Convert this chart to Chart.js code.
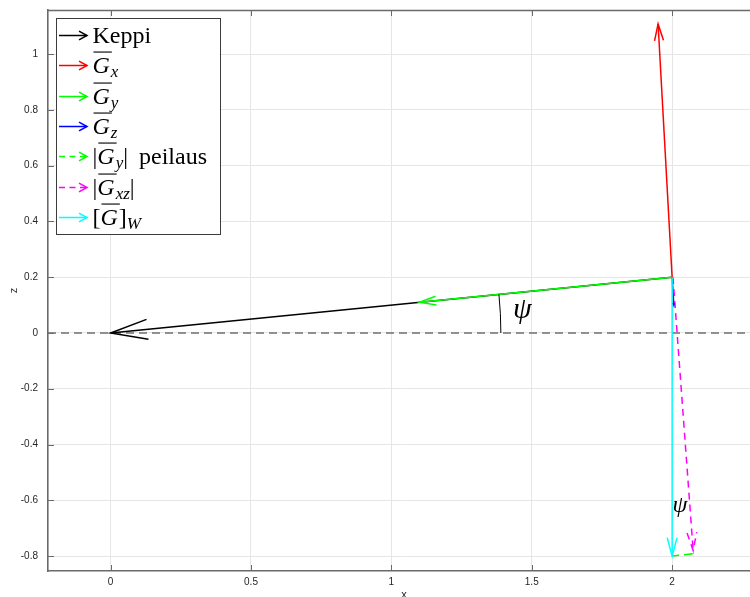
<!DOCTYPE html>
<html>
<head>
<meta charset="utf-8">
<script src="https://cdn.jsdelivr.net/npm/chart.js@4.4.1/dist/chart.umd.min.js"></script>
<style>
  html, body { margin: 0; padding: 0; background: #fff; overflow: hidden; }
  #wrap { width: 750px; height: 597px; overflow: hidden; position: relative; }
  canvas { display: block; }
</style>
</head>
<body>
<div id="wrap"><canvas id="c" width="760" height="597"></canvas></div>
<script>
// ---- axis limits and ticks ----
const xMin = -0.223, xMax = 2.313;
const zMin = -0.8535, zMax = 1.158;
const xTicks = [0, 0.5, 1, 1.5, 2];
const zTicks = [-0.8, -0.6, -0.4, -0.2, 0, 0.2, 0.4, 0.6, 0.8, 1];

// ---- vectors (start, end) ----
const keppiX = [2, 0],        keppiZ = [0.2, 0];
const gxX = [2, 1.95],        gxZ = [0.2, 1.108];
const gyX = [2, 1.1],         gyZ = [0.2, 0.11];
const gzX = [2, 2.006],       gzZ = [0.2, 0.1];
const gyPeilausX = [2, 2.07], gyPeilausZ = [-0.8, -0.792];
const gxzX = [2.003, 2.075],  gxzZ = [0.2, -0.78];
const gwX = [2, 2],           gwZ = [0.2, -0.8];
const zeroX = [xMin, xMax],   zeroZ = [0, 0];

// ---- annotations ----
const psiArcRadius = 1.39;
const psiLabelX = [1.466, 2.028];
const psiLabelZ = [0.082, -0.62];
const psiLabelSize = [30, 24];

const legendLabels = ['Keppi', 'G_x', 'G_y', 'G_z', '|G_y| peilaus', '|G_xz|', '[G]_W'];
const seriesColors = ['#000000', '#ff0000', '#00ff00', '#0000ff', '#00ff00', '#ff00ff', '#00ffff'];
const seriesDashed = [false, false, false, false, true, true, false];

function pts(xs, zs) { return xs.map((x, i) => ({ x: x, y: zs[i] })); }

const series = [
  [keppiX, keppiZ], [gxX, gxZ], [gyX, gyZ], [gzX, gzZ],
  [gyPeilausX, gyPeilausZ], [gxzX, gxzZ], [gwX, gwZ]
];

const datasets = [];
datasets.push({
  label: 'zero', data: pts(zeroX, zeroZ), showLine: true, pointRadius: 0,
  borderColor: '#707070', borderWidth: 1.5, borderDash: [8, 5], order: 100, arrow: false
});
series.forEach((s, i) => {
  datasets.push({
    label: legendLabels[i], data: pts(s[0], s[1]), showLine: true, pointRadius: 0,
    borderColor: seriesColors[i], borderWidth: 1.5,
    borderDash: seriesDashed[i] ? [7, 5] : [], order: 50 - i, arrow: true
  });
});

const axisColor = '#6a6a6a';
const tickFont = { family: '"Liberation Sans", Arial, sans-serif', size: 10 };

function drawRich(ctx, label, x, base) {
  const main = 24, sub = 17, fam = '"Liberation Serif", "Times New Roman", serif';
  let i = 0;
  ctx.fillStyle = '#000';
  ctx.textBaseline = 'alphabetic';
  ctx.textAlign = 'left';
  while (i < label.length) {
    const c = label[i];
    if (c === '_') {
      let j = i + 1, s = '';
      while (j < label.length && /[A-Za-z]/.test(label[j])) { s += label[j]; j++; }
      ctx.font = 'italic ' + sub + 'px ' + fam;
      ctx.fillText(s, x, base + 4);
      x += ctx.measureText(s).width;
      i = j; continue;
    }
    if (c === 'G') {
      ctx.font = 'italic ' + main + 'px ' + fam;
      const w = ctx.measureText('G').width;
      ctx.fillText('G', x, base);
      ctx.fillRect(x + 1, base - 21, w + 1, 1.1);
      x += w + 1; i++; continue;
    }
    if (c === ' ') { x += 11; i++; continue; }
    let j = i, s = '';
    while (j < label.length && '_G '.indexOf(label[j]) < 0) { s += label[j]; j++; }
    ctx.font = main + 'px ' + fam;
    ctx.fillText(s, x, base);
    x += ctx.measureText(s).width;
    i = j;
  }
}

const customPlugin = {
  id: 'custom',
  beforeDatasetsDraw(chart) {
    const ctx = chart.ctx, a = chart.chartArea;
    const xs = chart.scales.x, ys = chart.scales.y;
    ctx.save();
    ctx.strokeStyle = axisColor;
    ctx.lineWidth = 1.6;
    ctx.beginPath();
    ctx.moveTo(a.left, a.top + 0.5); ctx.lineTo(a.right, a.top + 0.5);
    ctx.stroke();
    ctx.lineWidth = 1;
    ctx.beginPath();
    xTicks.forEach(v => {
      const px = Math.round(xs.getPixelForValue(v)) + 0.5;
      ctx.moveTo(px, a.bottom); ctx.lineTo(px, a.bottom - 6);
      ctx.moveTo(px, a.top); ctx.lineTo(px, a.top + 6);
    });
    zTicks.forEach(v => {
      const py = Math.round(ys.getPixelForValue(v)) + 0.5;
      ctx.moveTo(a.left, py); ctx.lineTo(a.left + 6, py);
    });
    ctx.stroke();
    ctx.restore();
  },
  afterDatasetsDraw(chart) {
    const ctx = chart.ctx;
    const xs = chart.scales.x, ys = chart.scales.y;
    ctx.save();
    ctx.beginPath();
    ctx.rect(chart.chartArea.left, chart.chartArea.top, chart.chartArea.right - chart.chartArea.left, chart.chartArea.bottom - chart.chartArea.top);
    ctx.clip();
    // arrowheads
    chart.data.datasets.forEach((ds, i) => {
      if (!ds.arrow) return;
      const el = chart.getDatasetMeta(i).data;
      const p0 = el[el.length - 2], p1 = el[el.length - 1];
      const dx = p1.x - p0.x, dy = p1.y - p0.y;
      const L = Math.hypot(dx, dy);
      const hl = L * 0.068, ang = Math.atan2(dy, dx), sp = 15 * Math.PI / 180;
      ctx.strokeStyle = ds.borderColor;
      ctx.lineWidth = ds.borderWidth;
      ctx.setLineDash(ds.borderDash || []);
      ctx.beginPath();
      ctx.moveTo(p1.x - hl * Math.cos(ang - sp), p1.y - hl * Math.sin(ang - sp));
      ctx.lineTo(p1.x, p1.y);
      ctx.lineTo(p1.x - hl * Math.cos(ang + sp), p1.y - hl * Math.sin(ang + sp));
      ctx.stroke();
    });
    ctx.setLineDash([]);
    // psi arc
    const cx = xs.getPixelForValue(0), cy = ys.getPixelForValue(0);
    const rx = xs.getPixelForValue(psiArcRadius) - cx;
    const ry = cy - ys.getPixelForValue(psiArcRadius);
    const th = Math.atan2(keppiZ[0] - keppiZ[1], keppiX[0] - keppiX[1]);
    ctx.strokeStyle = '#000';
    ctx.lineWidth = 1;
    ctx.beginPath();
    ctx.ellipse(cx, cy, rx, ry, 0, -th, 0);
    ctx.stroke();
    // psi labels
    ctx.fillStyle = '#000';
    ctx.textAlign = 'center';
    ctx.textBaseline = 'middle';
    psiLabelX.forEach((v, i) => {
      ctx.font = 'italic ' + psiLabelSize[i] + 'px "Liberation Serif", serif';
      ctx.fillText('ψ', xs.getPixelForValue(v), ys.getPixelForValue(psiLabelZ[i]));
    });
    ctx.restore();
  },
  afterDraw(chart) {
    const ctx = chart.ctx;
    ctx.save();
    ctx.fillStyle = '#fff';
    ctx.fillRect(56, 18, 165, 216);
    ctx.strokeStyle = '#3c3c3c';
    ctx.lineWidth = 1;
    ctx.strokeRect(56.5, 18.5, 164, 216);
    legendLabels.forEach((lab, i) => {
      const y = Math.round(35 + i * 30.3) + 0.5;
      ctx.strokeStyle = seriesColors[i];
      ctx.lineWidth = 1.5;
      ctx.setLineDash(seriesDashed[i] ? [6, 4.5] : []);
      ctx.beginPath();
      ctx.moveTo(59, y); ctx.lineTo(87, y);
      ctx.stroke();
      ctx.setLineDash([]);
      ctx.beginPath();
      ctx.moveTo(79, y - 4.3); ctx.lineTo(87, y); ctx.lineTo(79, y + 4.3);
      ctx.stroke();
      drawRich(ctx, lab, 92.5, y + 7);
    });
    ctx.restore();
  }
};

new Chart(document.getElementById('c'), {
  type: 'scatter',
  data: { datasets: datasets },
  options: {
    responsive: false,
    animation: false,
    layout: { padding: { top: 10, right: 0, left: 0, bottom: 0 } },
    plugins: { legend: { display: false }, tooltip: { enabled: false } },
    scales: {
      x: {
        type: 'linear', min: xMin, max: xMax,
        afterBuildTicks: s => { s.ticks = xTicks.map(v => ({ value: v })); },
        afterFit: s => { s.height = 26; s.paddingLeft = 0; s.paddingRight = 0; },
        grid: { color: '#e6e6e6', lineWidth: 1, drawTicks: false },
        border: { display: true, color: axisColor, width: 1.6 },
        ticks: { padding: 5, font: tickFont, color: '#262626', maxRotation: 0, autoSkip: false,
                 callback: v => String(v) },
        title: { display: true, text: 'x', color: '#262626',
                 font: { family: '"Liberation Sans", Arial, sans-serif', size: 11 },
                 padding: { top: 0, bottom: -4.6 } }
      },
      y: {
        type: 'linear', min: zMin, max: zMax,
        afterBuildTicks: s => { s.ticks = zTicks.map(v => ({ value: v })); },
        afterFit: s => { s.width = 48; s.paddingTop = 0; s.paddingBottom = 0; },
        grid: { color: '#e6e6e6', lineWidth: 1, drawTicks: false },
        border: { display: true, color: axisColor, width: 1.6 },
        ticks: { padding: 10, font: tickFont, color: '#262626', autoSkip: false,
                 callback: v => String(v) },
        title: { display: true, text: 'z', color: '#262626',
                 font: { family: '"Liberation Sans", Arial, sans-serif', size: 11 },
                 padding: { top: 7.4, bottom: 0 } }
      }
    }
  },
  plugins: [customPlugin]
});
</script>
</body>
</html>
